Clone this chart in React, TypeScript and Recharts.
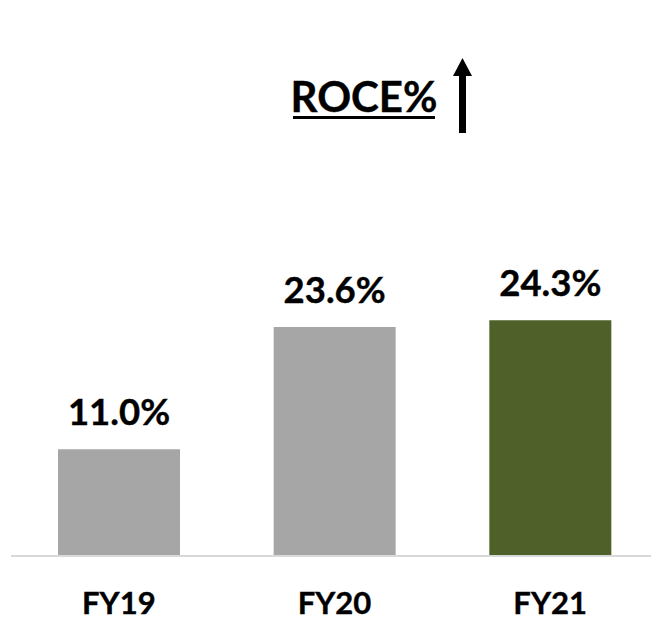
import React from "react";
import { BarChart, Bar, XAxis, YAxis, Cell, LabelList } from "recharts";

const categories = ["FY19", "FY20", "FY21"];
const roceValues = [11.0, 23.6, 24.3];
const barColors = ["#a6a6a6", "#a6a6a6", "#4f6128"];
const valueLabels = ["11.0%", "23.6%", "24.3%"];
const chartTitle = "ROCE%";

const data = categories.map((c, i) => ({ name: c, value: roceValues[i], label: valueLabels[i] }));

const FONT = "Lato, 'Open Sans', sans-serif";

const ValueLabel = (props: any) => {
  const { x, y, width, index } = props;
  return (
    <text
      x={x + width / 2}
      y={y - 24}
      textAnchor="middle"
      fontFamily={FONT}
      fontWeight={700}
      fontSize={36.5}
      fill="#000"
      stroke="#000"
      strokeWidth={0.4}
    >
      {valueLabels[index]}
    </text>
  );
};

const Tick = (props: any) => {
  const { x, y, payload } = props;
  return (
    <text x={x} y={y + 50} textAnchor="middle" fontFamily={FONT} fontWeight={700} fontSize={31} fill="#000" stroke="#000" strokeWidth={0.4}>
      {payload.value}
    </text>
  );
};

export default function App() {
  return (
    <div style={{ position: "fixed", left: 0, top: 0, width: 651, height: 623, overflow: "hidden", background: "#fff" }}>
      <BarChart
        width={658}
        height={623}
        data={data}
        margin={{ top: 265, right: 0, bottom: 0, left: 11 }}
        barSize={122}
      >
        <XAxis
          dataKey="name"
          axisLine={{ stroke: "#d9d9d9", strokeWidth: 2 }}
          tickLine={false}
          height={67}
          tick={<Tick />}
          interval={0}
        />
        <YAxis hide domain={[0, 30]} />
        <Bar dataKey="value" isAnimationActive={false}>
          {data.map((d, i) => (
            <Cell key={d.name} fill={barColors[i]} />
          ))}
          <LabelList dataKey="label" content={<ValueLabel />} />
        </Bar>
      </BarChart>
      <svg width={651} height={200} style={{ position: "absolute", left: 0, top: 0 }}>
        <text x={364} y={112} textAnchor="middle" fontFamily={FONT} fontWeight={700} fontSize={42} fill="#000" stroke="#000" strokeWidth={0.4}>
          {chartTitle}
        </text>
        <rect x={293} y={116} width={142} height={3} fill="#000" />
        <rect x={459} y={74} width={7} height={59} fill="#000" />
        <polygon points="453,76 462.5,58 472,76" fill="#000" />
      </svg>
    </div>
  );
}
